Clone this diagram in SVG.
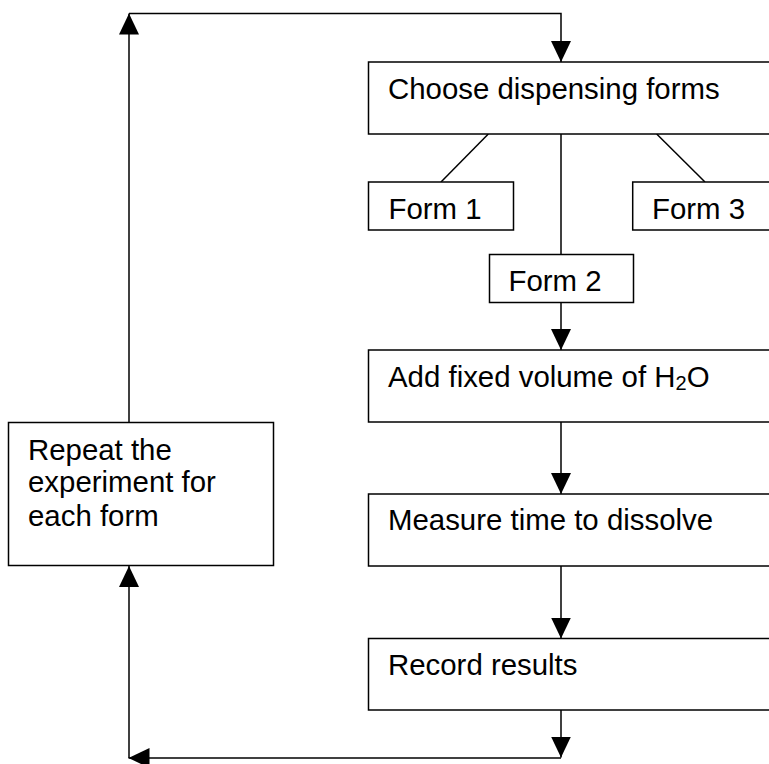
<svg xmlns="http://www.w3.org/2000/svg" width="769" height="764" viewBox="0 0 769 764">
<style>
.box{fill:#fff;stroke:#000;stroke-width:1.5}
.t{font-family:"Liberation Sans",Arial,sans-serif;font-size:29.4px;fill:#000}
.c{fill:none;stroke:#000;stroke-width:1.5}
</style>
<defs>
<marker id="ah" markerUnits="userSpaceOnUse" markerWidth="21" markerHeight="20" refX="21" refY="10" orient="auto" viewBox="0 0 21 20">
<path d="M0,0 L21,10 L0,20 z" fill="#000"/>
</marker>
</defs>
<rect width="769" height="764" fill="#fff"/>
<g id="connectors">
<path class="c" d="M129,422.5 V13.5" marker-end="url(#ah)"/>
<path class="c" d="M129,13.5 H561 V62" marker-end="url(#ah)"/>
<path class="c" d="M561,134 V254.5"/>
<path class="c" d="M488.3,134 L441,182"/>
<path class="c" d="M656.7,134 L705,182"/>
<path class="c" d="M561,302.5 V350" marker-end="url(#ah)"/>
<path class="c" d="M561,422 V494" marker-end="url(#ah)"/>
<path class="c" d="M561,566 V638.5" marker-end="url(#ah)"/>
<path class="c" d="M561,710 V757.5" marker-end="url(#ah)"/>
<path class="c" d="M561,758 H128.5" marker-end="url(#ah)"/>
<path class="c" d="M129,758 V566" marker-end="url(#ah)"/>
</g>
<g id="choose">
<rect class="box" x="368.5" y="62" width="404" height="72"/>
<text class="t" x="388" y="99">Choose dispensing forms</text>
</g>
<g id="form1">
<rect class="box" x="368.5" y="182" width="145" height="48"/>
<text class="t" x="388.5" y="218.5">Form 1</text>
</g>
<g id="form3">
<rect class="box" x="632.7" y="182" width="140" height="48"/>
<text class="t" x="652" y="218.5">Form 3</text>
</g>
<g id="form2">
<rect class="box" x="489.5" y="254.5" width="144" height="48"/>
<text class="t" x="508.5" y="290.5">Form 2</text>
</g>
<g id="add">
<rect class="box" x="368.5" y="350" width="404" height="72"/>
<text class="t" x="388" y="386.7">Add fixed volume of H<tspan font-size="20" dy="3">2</tspan><tspan dy="-3">O</tspan></text>
</g>
<g id="measure">
<rect class="box" x="368.5" y="494" width="404" height="72"/>
<text class="t" x="388" y="530">Measure time to dissolve</text>
</g>
<g id="record">
<rect class="box" x="368.5" y="638.5" width="404" height="71.5"/>
<text class="t" x="388" y="675">Record results</text>
</g>
<g id="repeat">
<rect class="box" x="8.5" y="422.5" width="265" height="143"/>
<text class="t" x="28" y="460">Repeat the</text>
<text class="t" x="28" y="492">experiment for</text>
<text class="t" x="28" y="525.7">each form</text>
</g>
</svg>
